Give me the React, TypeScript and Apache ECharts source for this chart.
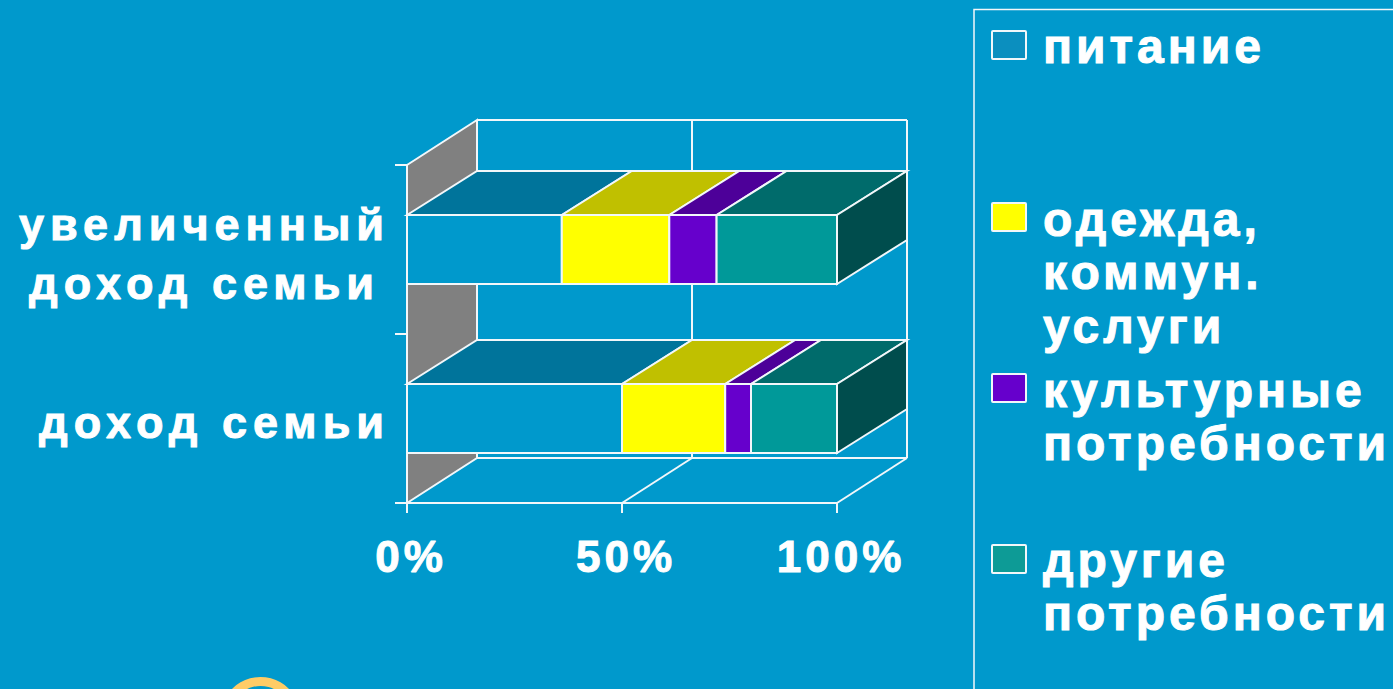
import React, { useEffect, useRef } from "react";
import * as echarts from "echarts";

const categories = ["доход семьи", "увеличенный\nдоход семьи"];
const xTicks = [0, 50, 100];
const seriesNames = ["питание", "одежда, коммун. услуги", "культурные потребности", "другие потребности"];
const pitanie = [50, 36];
const odezhda = [24, 25];
const kultura = [6, 11];
const drugie = [20, 28];
const allValues = [pitanie, odezhda, kultura, drugie];
const frontColors = ["#0099cc", "#ffff00", "#6600cc", "#009999"];
const topColors = ["#00749b", "#c0c000", "#4d0099", "#006b6b"];
const sideColor = "#004d4d";
const wallColor = "#808080";
const bg = "#0099cc";
const line = "#f2f7fa";

const legendLines = [["питание"], ["одежда,", "коммун.", "услуги"], ["культурные", "потребности"], ["другие", "потребности"]];
const legendSwatches = ["#0b8fbf", "#ffff00", "#6600cc", "#0d9b96"];
const legendTops = [31, 203, 374, 545];
const legendTextTops = [22, 195, 366, 536];
const legendLineHeight = 53.5;

const DX = 70;
const DY = -45;
const BAR_DY = -44;
const BAR_RATIO = 69 / 169;
const FONT = '"Liberation Sans", Arial, sans-serif';

const lineStyle = { stroke: line, lineWidth: 2, fill: "none" };

function wallsRender(params: any, api: any) {
  const x = api.value(0);
  const band = api.size([0, 1])[1];
  const yBottom = api.coord([0, 0])[1] + band / 2;
  const yTop = api.coord([0, 1])[1] - band / 2;
  const px = api.coord([x, 0])[0];
  const x0 = api.coord([0, 0])[0];
  const x100 = api.coord([100, 0])[0];
  const children: any[] = [];
  if (x === 0) {
    children.push({
      type: "polygon",
      shape: { points: [[x0, yTop], [x0 + DX, yTop + DY], [x0 + DX, yBottom + DY], [x0, yBottom]] },
      style: { fill: wallColor, stroke: line, lineWidth: 2 },
    });
    children.push({ type: "line", shape: { x1: x0 + DX, y1: yTop + DY, x2: x100 + DX, y2: yTop + DY }, style: lineStyle });
    children.push({ type: "line", shape: { x1: x0 + DX, y1: yBottom + DY, x2: x100 + DX, y2: yBottom + DY }, style: lineStyle });
  } else {
    children.push({ type: "line", shape: { x1: px + DX, y1: yTop + DY, x2: px + DX, y2: yBottom + DY }, style: lineStyle });
    children.push({ type: "line", shape: { x1: px, y1: yBottom, x2: px + DX, y2: yBottom + DY }, style: lineStyle });
  }
  return { type: "group", children };
}

function barRender(seriesIdx: number) {
  return (params: any, api: any) => {
    const cat = api.value(0);
    const start = api.value(1);
    const end = api.value(2);
    const band = api.size([0, 1])[1];
    const h = band * BAR_RATIO;
    const cy = api.coord([start, cat])[1];
    const xa = api.coord([start, cat])[0];
    const xb = api.coord([end, cat])[0];
    const top = cy - h / 2;
    const bottom = cy + h / 2;
    const st = { stroke: line, lineWidth: 2 };
    const children: any[] = [
      {
        type: "polygon",
        shape: { points: [[xa, top], [xa + DX, top + BAR_DY], [xb + DX, top + BAR_DY], [xb, top]] },
        style: { fill: topColors[seriesIdx], ...st },
      },
      { type: "rect", shape: { x: xa, y: top, width: xb - xa, height: h }, style: { fill: frontColors[seriesIdx], ...st } },
    ];
    if (seriesIdx === allValues.length - 1) {
      children.push({
        type: "polygon",
        shape: { points: [[xb, top], [xb + DX, top + BAR_DY], [xb + DX, bottom + BAR_DY], [xb, bottom]] },
        style: { fill: sideColor, ...st },
      });
    }
    return { type: "group", children };
  };
}

export default function App() {
  const ref = useRef<HTMLDivElement>(null);
  useEffect(() => {
    document.body.style.margin = "0";
    const chart = echarts.init(ref.current!, undefined, { renderer: "svg" });
    const barSeries = allValues.map((vals, s) => ({
      type: "custom",
      name: seriesNames[s],
      coordinateSystem: "cartesian2d",
      clip: false,
      renderItem: barRender(s),
      encode: { x: [1, 2], y: 0 },
      data: vals.map((v, c) => {
        let start = 0;
        for (let k = 0; k < s; k++) start += allValues[k][c];
        return [c, start, start + v];
      }),
    }));
    const legendGraphics: any[] = [];
    legendLines.forEach((lines, i) => {
      legendGraphics.push({
        type: "rect",
        shape: { x: 992, y: legendTops[i], width: 34, height: 28, r: 1 },
        style: { fill: legendSwatches[i], stroke: line, lineWidth: 2 },
      });
      lines.forEach((t, j) => {
        legendGraphics.push({
          type: "text",
          x: 1043,
          y: legendTextTops[i] + j * legendLineHeight,
          style: { text: t, fill: "#ffffff", font: `bold 48px ${FONT}`, stroke: "#ffffff", lineWidth: 1 },
        });
      });
    });
    const richBase = { fontFamily: FONT, fontWeight: "bold", fontSize: 45, lineHeight: 59, color: "#ffffff", textBorderColor: "#ffffff", textBorderWidth: 1 };
    chart.setOption({
      animation: false,
      backgroundColor: bg,
      grid: { left: 407, top: 165, width: 430, height: 338, containLabel: false },
      xAxis: {
        type: "value",
        min: 0,
        max: 100,
        interval: 50,
        axisLine: { show: true, lineStyle: { color: line, width: 2 } },
        axisTick: { show: true, length: 10, lineStyle: { color: line, width: 2 } },
        splitLine: { show: false },
        axisLabel: {
          color: "#ffffff", fontFamily: FONT, fontWeight: "bold", fontSize: 44, margin: 31,
          formatter: "{value}%", hideOverlap: false, textBorderColor: "#ffffff", textBorderWidth: 1,
          padding: [0, 0, 0, 8],
        },
      },
      yAxis: {
        type: "category",
        data: categories,
        axisLine: { show: true, onZero: false, lineStyle: { color: line, width: 2 } },
        axisTick: { show: true, length: 12, lineStyle: { color: line, width: 2 } },
        axisLabel: {
          color: "#ffffff",
          fontFamily: FONT,
          fontWeight: "bold",
          fontSize: 45,
          lineHeight: 59,
          margin: 17,
          align: "right",
          interval: 0,
          padding: [8, 0, 0, 0],
          formatter: (v: string) => {
            const p = v.split("\n");
            return p.length > 1 ? `{a|${p[0]}}\n{b|${p[1]}}` : `{a|${p[0]}}`;
          },
          rich: {
            a: richBase,
            b: { ...richBase, padding: [0, 10, 0, 0] },
          },
        },
      },
      graphic: {
        elements: [
          { type: "rect", shape: { x: 974, y: 9.5, width: 600, height: 800 }, style: { fill: "none", stroke: line, lineWidth: 1.5 } },
          { type: "ring", shape: { cx: 260.5, cy: 717, r: 40, r0: 31 }, style: { fill: "#ffcc66" } },
          ...legendGraphics,
        ],
      },
      series: [
        {
          type: "custom",
          coordinateSystem: "cartesian2d",
          clip: false,
          silent: true,
          renderItem: wallsRender,
          encode: { x: 0, y: 1 },
          data: xTicks.map((t) => [t, 0]),
        },
        ...barSeries,
      ],
    });
    // the category labels are wider-set than the other texts
    ref.current!.querySelectorAll("text").forEach((el) => {
      if ((el.getAttribute("style") || "").includes("45px")) (el as any).style.letterSpacing = "6px";
    });
    return () => chart.dispose();
  }, []);
  return (
    <div
      ref={ref}
      style={{ position: "fixed", left: 0, top: 0, width: 1393, height: 689, letterSpacing: "4px", overflow: "hidden" }}
    />
  );
}
